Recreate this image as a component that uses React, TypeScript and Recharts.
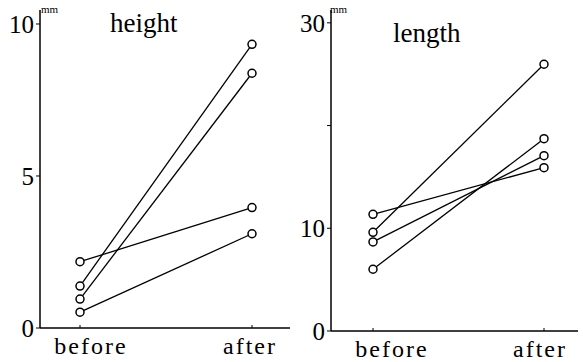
import React from "react";
import { LineChart, Line, XAxis, YAxis } from "recharts";

// categories
const categories = ["before", "after"];

// height (mm): before, after per individual
const height1 = [2.18, 3.96];
const height2 = [0.52, 3.1];
const height3 = [1.38, 9.33];
const height4 = [0.95, 8.38];

// length (mm): before, after per individual
const length1 = [11.36, 15.9];
const length2 = [9.61, 25.97];
const length3 = [8.67, 17.07];
const length4 = [6.01, 18.72];

const heightTicks = [0, 5, 10];
const lengthTicks = [0, 10, 20, 30];
const lengthTickLabels = ["0", "10", "", "30"];

const heightData = categories.map((c, i) => ({
  cat: c,
  s1: height1[i],
  s2: height2[i],
  s3: height3[i],
  s4: height4[i],
}));
const lengthData = categories.map((c, i) => ({
  cat: c,
  s1: length1[i],
  s2: length2[i],
  s3: length3[i],
  s4: length4[i],
}));

const serif = "Liberation Serif";
const keys = ["s1", "s2", "s3", "s4"];

const makeXTick = (offsets: number[]) => (props: any) => {
  const { x, y, payload, index } = props;
  return (
    <g>
      <line x1={x} x2={x} y1={y} y2={y - 3} stroke="#000" strokeWidth={1} />
      <text
        x={x + (offsets[index] || 0)}
        y={y + 26}
        textAnchor="middle"
        fontFamily={serif}
        fontSize={24}
        letterSpacing={2}
        fill="#000"
      >
        {payload.value}
      </text>
    </g>
  );
};

const dot = { r: 4, stroke: "#000", strokeWidth: 1.5, fill: "#fff" };

function Panel({
  data,
  domainMax,
  ticks,
  tickFmt,
  width,
  yWidth,
  padL,
  padR,
  marginRight,
  bottom,
  offsets,
}: any) {
  return (
    <LineChart
      width={width}
      height={362}
      data={data}
      margin={{ top: 10, right: marginRight, left: 0, bottom: bottom }}
    >
      <XAxis
        dataKey="cat"
        padding={{ left: padL, right: padR }}
        axisLine={{ stroke: "#000", strokeWidth: 1.5 }}
        tickLine={false}
        tickSize={0}
        tickMargin={0}
        height={30}
        tick={makeXTick(offsets)}
        interval={0}
      />
      <YAxis
        type="number"
        domain={[0, domainMax]}
        ticks={ticks}
        tickFormatter={tickFmt}
        width={yWidth}
        axisLine={{ stroke: "#000", strokeWidth: 1.5 }}
        tickLine={{ stroke: "#000", strokeWidth: 1 }}
        tickSize={4}
        tickMargin={2}
        tick={{ fill: "#000", fontFamily: serif, fontSize: 25 }}
        interval={0}
      />
      {keys.map((k) => (
        <Line
          key={k}
          dataKey={k}
          stroke="#000"
          strokeWidth={1.3}
          dot={dot}
          activeDot={false}
          isAnimationActive={false}
        />
      ))}
    </LineChart>
  );
}

export default function App() {
  const textStyle: React.CSSProperties = {
    position: "absolute",
    fontFamily: serif,
    color: "#000",
    whiteSpace: "nowrap",
    lineHeight: 1,
  };
  return (
    <div
      style={{
        position: "absolute",
        left: 0,
        top: 0,
        width: 583,
        height: 362,
        background: "#fff",
        overflow: "hidden",
      }}
    >
      <div style={{ position: "absolute", left: 0, top: 0 }}>
        <Panel
          data={heightData}
          domainMax={10.46}
          ticks={heightTicks}
          tickFmt={(v: number) => String(v)}
          width={290}
          yWidth={40}
          padL={40}
          padR={38}
          marginRight={0}
          bottom={4}
          offsets={[11, -2]}
        />
      </div>
      <div style={{ position: "absolute", left: 290, top: 0 }}>
        <Panel
          data={lengthData}
          domainMax={31.25}
          ticks={lengthTicks}
          tickFmt={(v: number) => lengthTickLabels[lengthTicks.indexOf(v)]}
          width={293}
          yWidth={41}
          padL={42}
          padR={34}
          marginRight={5}
          bottom={1}
          offsets={[19, -4]}
        />
      </div>
      <span style={{ ...textStyle, left: 41, top: 4, fontSize: 11 }}>mm</span>
      <span style={{ ...textStyle, left: 110, top: 10, fontSize: 27 }}>height</span>
      <span style={{ ...textStyle, left: 330, top: 4, fontSize: 11 }}>mm</span>
      <span style={{ ...textStyle, left: 393, top: 20, fontSize: 27 }}>length</span>
    </div>
  );
}
